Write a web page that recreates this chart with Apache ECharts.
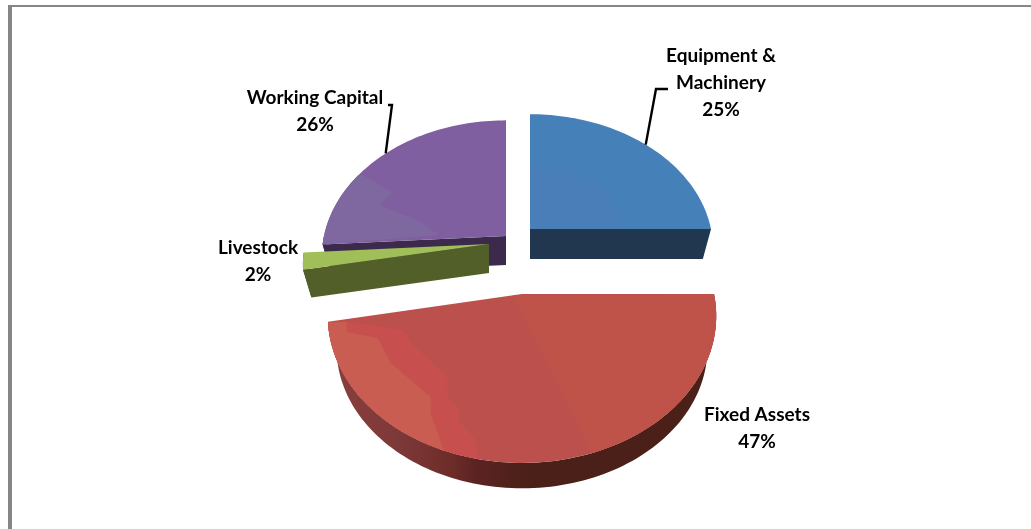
<!DOCTYPE html>
<html>
<head>
<meta charset="utf-8">
<style>html,body{margin:0;padding:0;background:#fff}#chart{width:1031px;height:529px}</style>
<script src="https://cdn.jsdelivr.net/npm/echarts@6/dist/echarts.min.js"></script>
</head>
<body>
<div id="chart"></div>
<script>
// Shares of financing use, in percent
const categories = ['Equipment &\nMachinery', 'Fixed Assets', 'Livestock', 'Working Capital'];
const shares = [25, 47, 2, 26];

// Cumulative clockwise angles from 12 o'clock
const total = shares.reduce((a, b) => a + b, 0);
const angleFrom = [];
let running = 0;
shares.forEach(v => { angleFrom.push(running / total * 360); running += v; });

// Perspective strength and lower-plane shrink of the extruded pie
const PERSPECTIVE = 0.15;
const LOWER_SCALE = 0.955;

// Exploded placement and look of each wedge
const wedges = [
  { cx: 530, cy: 229, rx: 181, ry: 132, drop: 30, order: 1, top: '#4680b8', side: '#21374f',
    label: [721, 83], leader: [[668, 89], [656, 89]],
    patches: [{ fill: '#4a7eb8', sector: 0.51 }] },
  { cx: 522, cy: 294, rx: 192, ry: 143.6, drop: 33, order: 3, top: '#bc504c', side: 'wall',
    label: [757, 428],
    patches: [
      { fill: '#bf5249', pts: [[-0.046, 0.007], [0.368, 1.107]], arc: [161, 90] },
      { fill: '#c7504f', pts: [[-0.912, 0.195], [-0.746, 0.223], [-0.616, 0.25], [-0.58, 0.341], [-0.388, 0.578], [-0.388, 0.717], [-0.331, 0.787], [-0.331, 0.877], [-0.243, 1.017]], arc: [191, 259] },
      { fill: '#c95d51', pts: [[-0.912, 0.195], [-0.912, 0.265], [-0.751, 0.306], [-0.684, 0.48], [-0.476, 0.717], [-0.476, 0.829]], arc: [200.5, 259] }
    ] },
  { cx: 489, cy: 244, rx: 184, ry: 133, drop: 29, order: 2, top: '#a0bf58', side: '#525f28',
    label: [258, 261], patches: [] },
  { cx: 506, cy: 236, rx: 182, ry: 133, drop: 29, order: 1, top: '#7f5f9f', side: '#3b2a4c',
    label: [315, 111], leader: [[388, 105], [392, 105]],
    patches: [{ fill: '#7f679f', pts: [[-0.363, -0.008], [-0.489, -0.12], [-0.692, -0.233], [-0.626, -0.33], [-0.786, -0.459]], arc: [299.5, 266.4] }] }
];

// Side wall shading of the large front wedge, dark towards the right
const wallShade = new echarts.graphic.LinearGradient(0, 0, 1, 0, [
  { offset: 0, color: '#8a403c' },
  { offset: 0.19, color: '#7c3838' },
  { offset: 0.32, color: '#6d2c28' },
  { offset: 0.38, color: '#5c2323' },
  { offset: 0.52, color: '#4a2018' },
  { offset: 1, color: '#4a2018' }
]);

// Place a point of the disc on screen: theta in degrees, r as a radius fraction
function project(w, theta, r, lower) {
  const t = theta * Math.PI / 180;
  const u = Math.sin(t) * r, v = -Math.cos(t) * r;
  const k = 1 / (1 - PERSPECTIVE * v);
  const s = lower ? LOWER_SCALE : 1;
  return [w.cx + w.rx * s * u * k, w.cy + w.ry * s * v * k + (lower ? w.drop : 0)];
}

function rimPath(w, a, b, r, lower) {
  const out = [];
  const steps = Math.max(2, Math.ceil(Math.abs(b - a) / 1.5));
  for (let i = 0; i <= steps; i++) out.push(project(w, a + (b - a) * i / steps, r, lower));
  return out;
}

function sideFace(w, theta) {
  return [project(w, theta, 0), project(w, theta, 1), project(w, theta, 1, true), project(w, theta, 0, true)];
}

function renderWedge(params, api) {
  const i = params.dataIndex;
  const value = api.value(0);
  const w = wedges[i];
  const a = angleFrom[i];
  const b = a + value / total * 360;
  const base = w.order * 10;
  const kids = [];
  const poly = (points, fill, z) => kids.push({ type: 'polygon', shape: { points }, style: { fill }, z2: base + z });
  const sideFill = w.side === 'wall' ? wallShade : w.side;

  // Cut faces that turn towards the viewer
  if (Math.sin(a * Math.PI / 180) < -1e-6) poly(sideFace(w, a), sideFill, 0);
  if (Math.sin(b * Math.PI / 180) > 1e-6) poly(sideFace(w, b), sideFill, 0);

  // Outer wall on the front half of the disc
  const wallA = Math.max(a, 90), wallB = Math.min(b, 270);
  if (wallB > wallA) {
    poly(rimPath(w, wallA, wallB, 1).concat(rimPath(w, wallB, wallA, 1, true)), sideFill, 1);
  }

  // Top face and its shading patches
  poly([project(w, a, 0)].concat(rimPath(w, a, b, 1)), w.top, 2);
  w.patches.forEach((p, n) => {
    let pts;
    if (p.sector) {
      pts = [project(w, a, 0)].concat(rimPath(w, a, b, p.sector));
    } else {
      pts = p.pts.map(q => [w.cx + w.rx * q[0], w.cy + w.ry * q[1]]).concat(rimPath(w, p.arc[0], p.arc[1], 1));
    }
    poly(pts, p.fill, 3 + n);
  });

  // Leader from the middle of the arc to the label
  if (w.leader) {
    const anchor = project(w, (a + b) / 2, 1);
    kids.push({
      type: 'polyline',
      shape: { points: w.leader.concat([anchor]) },
      style: { stroke: '#000', lineWidth: 2.4, fill: null },
      z2: 80
    });
  }

  kids.push({
    type: 'text',
    style: {
      text: api.value(1) + '\n' + value + '%',
      x: w.label[0], y: w.label[1],
      align: 'center', verticalAlign: 'middle',
      fontFamily: 'Lato', fontSize: 19, fontWeight: 700,
      lineHeight: 27, fill: '#000'
    },
    z2: 90
  });
  return { type: 'group', children: kids };
}

const chart = echarts.init(document.getElementById('chart'), null, { renderer: 'canvas' });
chart.setOption({
  animation: false,
  backgroundColor: '#fff',
  // Frame along the top and left of the sheet
  graphic: [
    { type: 'rect', silent: true, shape: { x: 8, y: 5, width: 1023, height: 2 }, style: { fill: '#868686' } },
    { type: 'rect', silent: true, shape: { x: 8, y: 5, width: 4, height: 524 }, style: { fill: '#868686' } }
  ],
  series: [{
    type: 'custom',
    coordinateSystem: 'none',
    silent: true,
    renderItem: renderWedge,
    dimensions: ['share', 'category'],
    encode: { value: 0 },
    data: shares.map((v, i) => [v, categories[i]])
  }]
});
</script>
</body>
</html>
